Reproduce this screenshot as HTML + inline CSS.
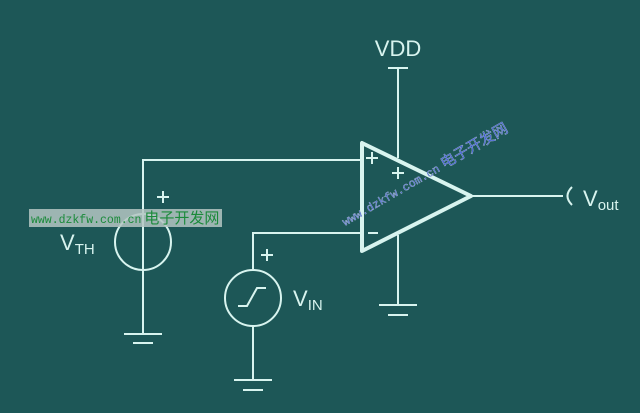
<!DOCTYPE html>
<html><head><style>
body{margin:0;background:#1d5757;}
svg{display:block}
</style></head><body>
<svg width="640" height="413" viewBox="0 0 640 413" style="font-family:'Liberation Sans','Noto Sans CJK SC',sans-serif">
<rect width="640" height="413" fill="#1d5757"/>
<g stroke="#d8f4ef" stroke-width="2" fill="none">
<polyline points="143,215 143,160 362,160"/>
<line x1="143" y1="215" x2="143" y2="334"/>
<circle cx="143" cy="242" r="28"/>
<line x1="124" y1="334" x2="162" y2="334"/>
<line x1="133" y1="343" x2="153" y2="343"/>
<polyline points="253,270 253,233 362,233"/>
<circle cx="253" cy="298" r="28"/>
<polyline points="238,306 247,306 257,288 266,288"/>
<line x1="253" y1="326" x2="253" y2="380"/>
<line x1="234" y1="380" x2="272" y2="380"/>
<line x1="243" y1="390" x2="263" y2="390"/>
<line x1="398" y1="68" x2="398" y2="158"/>
<line x1="388" y1="68" x2="408" y2="68"/>
<line x1="398" y1="235" x2="398" y2="305"/>
<line x1="379" y1="305" x2="417" y2="305"/>
<line x1="388" y1="315" x2="408" y2="315"/>
<line x1="471" y1="196" x2="563" y2="196"/>
<path d="M572,187 Q563,196 572,205"/>
</g>
<polygon points="362,143 362,251 471,196" fill="none" stroke="#d8f4ef" stroke-width="4" stroke-linejoin="round"/>
<g stroke="#d8f4ef" stroke-width="2">
<line x1="366" y1="158" x2="378" y2="158"/><line x1="372" y1="152" x2="372" y2="164"/>
<line x1="392" y1="173" x2="404" y2="173"/><line x1="398" y1="167" x2="398" y2="179"/>
<line x1="368" y1="233" x2="378" y2="233"/>
<line x1="157" y1="197" x2="169" y2="197"/><line x1="163" y1="191" x2="163" y2="203"/>
<line x1="261" y1="255" x2="273" y2="255"/><line x1="267" y1="249" x2="267" y2="261"/>
</g>
<g fill="#d8f4ef">
<text x="398" y="56" font-size="22" text-anchor="middle">VDD</text>
<text x="583" y="206" font-size="22">V<tspan font-size="15" dy="4">out</tspan></text>
<text x="60" y="250" font-size="22">V<tspan font-size="15" dy="4">TH</tspan></text>
<text x="293" y="306" font-size="22">V<tspan font-size="15" dy="4">IN</tspan></text>
</g>
<rect x="29" y="209" width="193" height="18" fill="#b4c6c2" opacity="0.85"/>
<text x="31" y="223" font-size="11.5" fill="#1a8a3a" style="font-family:'Liberation Mono',monospace">www.dzkfw.com.cn<tspan dx="3" font-size="15" style="font-family:'Noto Sans CJK SC',sans-serif">电子开发网</tspan></text>
<g transform="translate(345,226) rotate(-30)">
<text x="0" y="0" font-size="11.5" fill="#3050d8" stroke="#b0c0d0" stroke-width="0.4" style="font-family:'Liberation Mono',monospace">www.dzkfw.com.cn<tspan dx="4" font-size="15" style="font-family:'Noto Sans CJK SC',sans-serif">电子开发网</tspan></text>
</g>
</svg>
</body></html>
